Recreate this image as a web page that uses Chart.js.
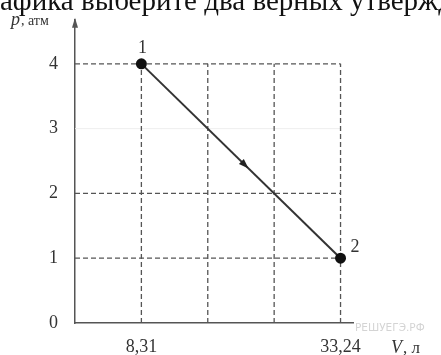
<!DOCTYPE html>
<html>
<head>
<meta charset="utf-8">
<script src="https://cdn.jsdelivr.net/npm/chart.js@4/dist/chart.umd.min.js"></script>
<style>
  html, body { margin: 0; padding: 0; background: #fff; overflow: hidden; }
  #wrap { position: relative; width: 441px; height: 355px; }
  #caption { position: absolute; left: 0; top: -14px; font: 29px/1 "Liberation Serif", serif; color: #111; white-space: nowrap; }
  canvas { position: absolute; left: 0; top: 0; }
</style>
</head>
<body>
<div id="wrap">
  <canvas id="myChart" width="441" height="355"></canvas>
  <div id="caption">афика выберите два верных утвержд</div>
</div>
<script>
const volumes = [8.31, 33.24];
const pressures = [4, 1];
const pointNames = ['1', '2'];
const yTicks = [0, 1, 2, 3, 4];
const xGrid = [8.31, 16.62, 24.93, 33.24];
const xTickLabels = ['8,31', '', '', '33,24'];

const serif = '"Liberation Serif", "DejaVu Serif", serif';

// dashed grid, arrows and the hand labels of the textbook picture
const decor = {
  id: 'decor',
  beforeDatasetsDraw(chart) {
    const { ctx, scales: { x, y } } = chart;
    ctx.save();
    // faint line at p = 3
    ctx.strokeStyle = '#eee';
    ctx.lineWidth = 1;
    ctx.beginPath();
    ctx.moveTo(x.getPixelForValue(0), y.getPixelForValue(3));
    ctx.lineTo(x.getPixelForValue(33.24), y.getPixelForValue(3));
    ctx.stroke();

    ctx.strokeStyle = '#555';
    ctx.lineWidth = 1.3;
    ctx.setLineDash([5, 3]);
    [1, 2, 4].forEach(p => {
      ctx.beginPath();
      ctx.moveTo(x.getPixelForValue(0), y.getPixelForValue(p));
      ctx.lineTo(x.getPixelForValue(33.24), y.getPixelForValue(p));
      ctx.stroke();
    });
    xGrid.forEach(v => {
      ctx.beginPath();
      ctx.moveTo(x.getPixelForValue(v), y.getPixelForValue(0));
      ctx.lineTo(x.getPixelForValue(v), y.getPixelForValue(4));
      ctx.stroke();
    });
    ctx.restore();
  },
  afterDatasetsDraw(chart) {
    const { ctx, scales: { x, y } } = chart;
    ctx.save();
    // direction arrow in the middle of 1 -> 2
    const x1 = x.getPixelForValue(volumes[0]), y1 = y.getPixelForValue(pressures[0]);
    const x2 = x.getPixelForValue(volumes[1]), y2 = y.getPixelForValue(pressures[1]);
    const mx = x1 + (x2 - x1) * 0.52, my = y1 + (y2 - y1) * 0.52;
    const a = Math.atan2(y2 - y1, x2 - x1);
    ctx.translate(mx, my);
    ctx.rotate(a);
    ctx.fillStyle = '#222';
    ctx.beginPath();
    ctx.moveTo(5, 0);
    ctx.lineTo(-5, -3.5);
    ctx.lineTo(-5, 3.5);
    ctx.closePath();
    ctx.fill();
    ctx.setTransform(1, 0, 0, 1, 0, 0);

    // axis arrow
    const ox = x.getPixelForValue(0), top = chart.chartArea.top;
    ctx.fillStyle = '#555';
    ctx.beginPath();
    ctx.moveTo(ox, top - 2);
    ctx.lineTo(ox - 3, top + 8);
    ctx.lineTo(ox + 3, top + 8);
    ctx.closePath();
    ctx.fill();

    // point names
    ctx.fillStyle = '#333';
    ctx.font = '18px ' + serif;
    ctx.textAlign = 'center';
    ctx.textBaseline = 'alphabetic';
    ctx.fillText(pointNames[0], x1 + 1, y1 - 11);
    ctx.textAlign = 'left';
    ctx.fillText(pointNames[1], x2 + 10, y2 - 6);

    // axis titles
    ctx.font = 'italic 18px ' + serif;
    ctx.fillText('p', 11, 25);
    ctx.font = '14px ' + serif;
    ctx.fillText(', атм', 21, 25);
    ctx.font = 'italic 18px ' + serif;
    ctx.fillText('V', 391, 353);
    ctx.font = '17px ' + serif;
    ctx.fillText(', л', 403, 353);

    // site watermark
    ctx.fillStyle = '#d4d4d4';
    ctx.font = '10.5px "DejaVu Sans", sans-serif';
    ctx.fillText('РЕШУЕГЭ.РФ', 355, 331);
    ctx.restore();
  }
};

const ctx = document.getElementById('myChart').getContext('2d');
new Chart(ctx, {
  type: 'scatter',
  data: {
    datasets: [{
      data: volumes.map((v, i) => ({ x: v, y: pressures[i] })),
      showLine: true,
      borderColor: '#333',
      borderWidth: 2,
      pointRadius: 4.5,
      pointBackgroundColor: '#111',
      pointBorderColor: '#111'
    }]
  },
  options: {
    responsive: false,
    animation: false,
    layout: { padding: { top: 13, right: 88, bottom: 0, left: 0 } },
    plugins: { legend: { display: false }, tooltip: { enabled: false } },
    scales: {
      x: {
        type: 'linear',
        min: 0,
        max: 34.8,
        afterBuildTicks: s => { s.ticks = xGrid.map(v => ({ value: v })); },
        afterFit: s => { s.height = 32; },
        grid: { display: false },
        border: { display: true, color: '#555', width: 1.5 },
        ticks: {
          autoSkip: false,
          maxRotation: 0,
          padding: 5,
          color: '#333',
          font: { family: serif, size: 18 },
          callback: (v, i) => xTickLabels[i]
        }
      },
      y: {
        min: 0,
        max: 4.68,
        afterBuildTicks: s => { s.ticks = yTicks.map(v => ({ value: v })); },
        afterFit: s => { s.width = 75; },
        grid: { display: false },
        border: { display: true, color: '#555', width: 1.5 },
        ticks: {
          padding: 9,
          color: '#333',
          font: { family: serif, size: 18 }
        }
      }
    }
  },
  plugins: [decor]
});
</script>
</body>
</html>
